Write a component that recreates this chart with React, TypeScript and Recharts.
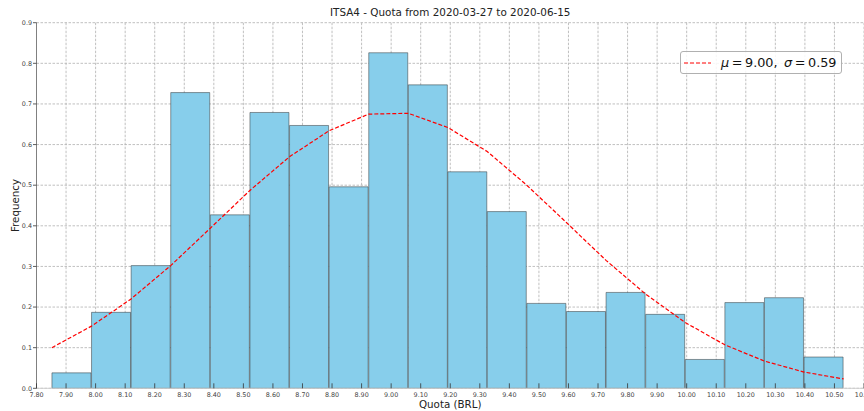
import React from 'react';
import { ComposedChart, Bar, Line, XAxis, YAxis, CartesianGrid, Legend } from 'recharts';

// histogram bin edges and heights
const binEdges = [
  7.852, 7.986, 8.12, 8.254, 8.388, 8.522, 8.656, 8.79, 8.924, 9.058, 9.192,
  9.325, 9.459, 9.593, 9.727, 9.861, 9.995, 10.129, 10.263, 10.397, 10.531,
];
const frequencies = [
  0.038, 0.187, 0.302, 0.728, 0.427, 0.679, 0.647, 0.496, 0.826, 0.747,
  0.533, 0.435, 0.209, 0.189, 0.236, 0.182, 0.071, 0.211, 0.223, 0.077,
];
// fitted normal curve, sampled at the bin edges
const normalCurve = [
  0.1, 0.153, 0.22, 0.302, 0.394, 0.487, 0.57, 0.634, 0.675, 0.677, 0.642,
  0.583, 0.5, 0.408, 0.315, 0.232, 0.162, 0.107, 0.067, 0.04, 0.023,
];
const xTicks = [
  7.8, 7.9, 8.0, 8.1, 8.2, 8.3, 8.4, 8.5, 8.6, 8.7, 8.8, 8.9, 9.0, 9.1, 9.2,
  9.3, 9.4, 9.5, 9.6, 9.7, 9.8, 9.9, 10.0, 10.1, 10.2, 10.3, 10.4, 10.5, 10.6,
];
const yTicks = [0, 0.1, 0.2, 0.3, 0.4, 0.5, 0.6, 0.7, 0.8, 0.9];

const title = 'ITSA4 - Quota from 2020-03-27 to 2020-06-15';
const mu = '9.00';
const sigma = '0.59';

const histData = frequencies.map((f, i) => ({
  center: (binEdges[i] + binEdges[i + 1]) / 2,
  freq: f,
}));
const curveData = binEdges.map((x, i) => ({ x, pdf: normalCurve[i] }));

const FONT = 'DejaVu Sans';
const THIN = '\u2009';

const XTick = (props: any) => {
  const { x, y, payload } = props;
  return (
    <g>
      <line x1={x} x2={x} y1={y - 5} y2={y} stroke='#333' strokeWidth={0.8} />
      <text x={x} y={y + 9} textAnchor='middle' fontSize={6.4} fill='#444' fontFamily={FONT}>
        {Number(payload.value).toFixed(2)}
      </text>
    </g>
  );
};

const LegendBox = () => (
  <div
    style={{
      display: 'flex',
      alignItems: 'center',
      boxSizing: 'border-box',
      width: 162,
      height: 23,
      border: '1px solid #b0b0b0',
      borderRadius: 3,
      background: 'rgba(255,255,255,0.85)',
      fontFamily: FONT,
      fontSize: 12.8,
      color: '#111',
      whiteSpace: 'nowrap',
      overflow: 'hidden',
    }}
  >
    <svg width={34} height={10} style={{ flex: 'none' }}>
      <line x1={3} x2={30} y1={5} y2={5} stroke='red' strokeWidth={1.2} strokeDasharray='4 2' />
    </svg>
    <span style={{ marginLeft: 6 }}>
      <i>μ</i>{THIN}={THIN}{mu},{'\u2002'}<i>σ</i>{THIN}={THIN}{sigma}
    </span>
  </div>
);

export default function App() {
  return (
    <div style={{ position: 'absolute', left: 0, top: 0, width: 864, height: 411, background: '#fff' }}>
      <div
        style={{
          position: 'absolute',
          left: 36.5,
          width: 827.5,
          top: 5,
          textAlign: 'center',
          fontFamily: FONT,
          fontSize: 10.4,
          color: '#222',
          lineHeight: '14px',
        }}
      >
        {title}
      </div>
      <ComposedChart
        width={864}
        height={411}
        data={histData}
        barCategoryGap={0}
        barGap={0}
        margin={{ top: 22.7, right: 0, bottom: 0, left: 0 }}
      >
        <CartesianGrid stroke='#b0b0b0' strokeDasharray='2.5 1.5' strokeWidth={0.8} />
        <XAxis
          dataKey='center'
          type='number'
          domain={[7.8, 10.6]}
          ticks={xTicks}
          interval={0}
          allowDataOverflow
          height={22.7}
          tickSize={0}
          tickMargin={0}
          tickLine={false}
          tick={<XTick />}
          axisLine={{ stroke: '#d0d0d0' }}
          label={{ value: 'Quota (BRL)', position: 'insideBottom', offset: 3, fontSize: 10.3, fill: '#222', fontFamily: FONT }}
        />
        <XAxis
          xAxisId='top'
          dataKey='x'
          type='number'
          orientation='top'
          domain={[7.8, 10.6]}
          allowDataOverflow
          height={0}
          tick={false}
          tickLine={false}
          axisLine={{ stroke: '#d0d0d0' }}
        />
        <YAxis
          type='number'
          domain={[0, 0.9]}
          ticks={yTicks}
          interval={0}
          width={36.5}
          tickSize={3.5}
          tickMargin={1}
          tickFormatter={(v: number) => v.toFixed(1)}
          tick={{ fontSize: 6.4, fill: '#444', fontFamily: FONT }}
          tickLine={{ stroke: '#333', strokeWidth: 0.8 }}
          axisLine={{ stroke: '#808080' }}
          label={{
            value: 'Frequency',
            angle: -90,
            position: 'insideLeft',
            offset: 15,
            fontSize: 10.3,
            fill: '#222',
            fontFamily: FONT,
            style: { textAnchor: 'middle' },
          }}
        />
        <Legend
          layout='vertical'
          align='center'
          verticalAlign='middle'
          content={() => <LegendBox />}
          wrapperStyle={{ position: 'absolute', left: 680, top: 51, width: 162, height: 23 }}
        />
        <Bar
          dataKey='freq'
          fill='#87CEEB'
          stroke='#2b2b2b'
          strokeOpacity={0.6}
          strokeWidth={0.8}
          isAnimationActive={false}
          legendType='none'
        />
        <Line
          xAxisId='top'
          data={curveData}
          dataKey='pdf'
          type='linear'
          stroke='red'
          strokeWidth={1.2}
          strokeDasharray='4 2'
          dot={false}
          activeDot={false}
          isAnimationActive={false}
        />
      </ComposedChart>
    </div>
  );
}
